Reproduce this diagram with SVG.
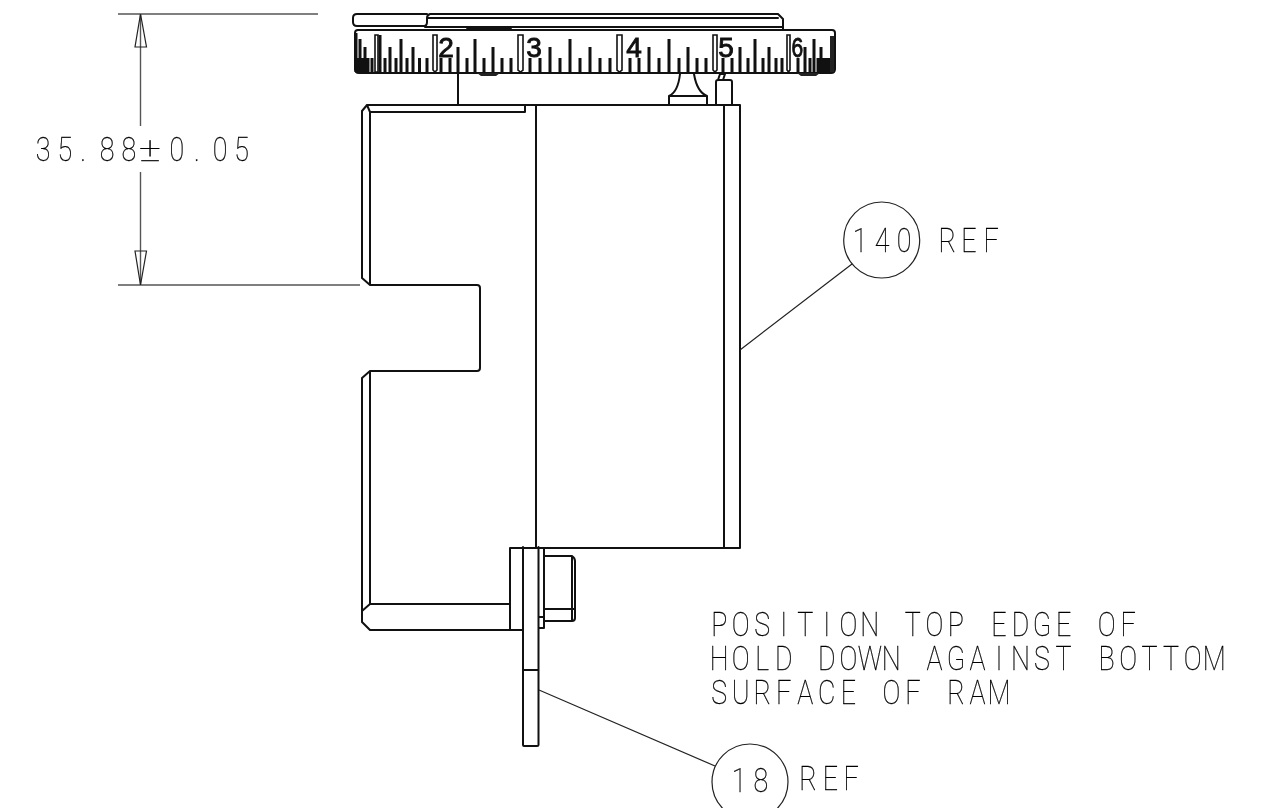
<svg xmlns="http://www.w3.org/2000/svg" width="1271" height="808" viewBox="0 0 1271 808">
<style>
.b{fill:none;stroke:#111;stroke-width:2;stroke-linejoin:round;stroke-linecap:round}
.l{fill:none;stroke:#222;stroke-width:1.2}
.d{fill:none;stroke:#555;stroke-width:1.4}
.t{fill:none;stroke:#111;stroke-width:3}
.m{fill:#fff;stroke:#111;stroke-width:1.6}
.n{font-family:"Liberation Sans",Arial,sans-serif;font-size:28px;fill:#111;text-anchor:middle;stroke:#111;stroke-width:.9}
.x{font-family:Roboto,"Liberation Sans",sans-serif;font-weight:100;font-size:33.5px;fill:#000;text-anchor:middle;stroke:#000;stroke-width:.3}
.g{filter:url(#gray)}
</style>
<defs><filter id="gray" x="-5%" y="-5%" width="110%" height="110%" color-interpolation-filters="sRGB"><feOffset dx="0" dy="0"/></filter></defs>
<rect width="1271" height="808" fill="#fff"/>
<g id="dial">
<path class="b" d="M427 14H357Q353 14 353 18V22Q353 26 357 26H424Q427 26 427 22V18Q427 15 430 14H778L783 19V29M427 18H778M425 27H783"/>
<path class="b" d="M358 30H832Q835 30 835 33V69Q835 73 831 73H359Q355 73 355 69V33Q355 30 358 30Z"/>
<path class="b" d="M467 29H511" stroke-width="1"/>
<path d="M477 73H500L496 76H481ZM797 73H820L816 76H801Z" fill="#222"/>
<path class="t" d="M356 72V33M360 72V39M365 72V47M368 72V58M372 72V58M380 72V35M385 72V58M390 72V47M396 72V58M401 72V39M407 72V58M413 72V47M419.500 72V58M427 72V58M441 72V58M450 72V58M458 72V47M467 72V58M475 72V39M484 72V58M493 72V47M502 72V58M511 72V58M530 72V58M540 72V58M550 72V47M560 72V58M570 72V39M580 72V58M590 72V47M600 72V58M610 72V58M630 72V58M639 72V58M649 72V47M659 72V58M669 72V39M679 72V58M688 72V47M697 72V58M706 72V58M723 72V58M732 72V58M740 72V47M748 72V58M755 72V39M763 72V58M769 72V47M776 72V58M782 72V58M798 72V58M805 72V47M810 72V58M814 72V39M818 72V58M821 72V47M824 72V58M827 72V58"/>
<rect x="355.500" y="58" width="9" height="14" fill="#111"/>
<rect x="826" y="58" width="9" height="14" fill="#111"/>
<rect x="830" y="36" width="4" height="36" fill="#222"/>
<path class="m" d="M375 35H378V72H375ZM433 35H437V70L435 72L433 70ZM518 35H523V70L520.500 72L518 70ZM617 35H622V70L619.500 72L617 70ZM713 35H717V70L715 72L713 70ZM787 35H790V70L788.500 72L787 70Z"/>
<g class="g">
<text class="n" x="446" y="57">2</text>
<text class="n" x="534" y="57">3</text>
<text class="n" x="634" y="57">4</text>
<text class="n" x="726" y="57">5</text>
<text class="n" transform="matrix(.75 0 0 1 0 0)" x="1063" y="57">6</text>
</g>
</g>
<g id="knob">
<path class="b" d="M680 74Q678 92 669 96V105M694 74Q697 92 707 96V105M669 96H707"/>
<path class="b" d="M716 105V82Q716 80 718 80H730Q732 80 732 82V105M718 80L720 74H725L723 80"/>
</g>
<g id="body">
<path class="b" d="M525 105H367L362 111V278L370 285H477Q480 285 480 288V368Q480 371 477 371H370L362 378V622L370 630H523M525 105V112H370V285M367 105L370 112M370 371V604H510M362 611L370 604M458 73V105M536 105V548M525 105H740V548H510Q510 548 510 549V630M724 105V548"/>
</g>
<g id="holddown">
<path class="b" d="M523 547V745Q523 746 524 746H537Q538.500 746 538.500 745V547M523 670H538.500M538.500 548H544V628H538.500M538.500 617H544M544 556H572Q575 558 575 561V618Q575 621 572 621H544M572 556V621M544 609H575"/>
</g>
<g id="connectors">
<path class="l" d="M740 350L852 264M539 690L715 766"/>
<path class="d" d="M118 14H318M118 285H360M140.500 14V126M140.500 172V285"/>
<path class="l" d="M140.500 14L135 47H146.500ZM140.500 285L135 251H146.500Z"/>
</g>
<g id="balloon-140">
<circle class="l" cx="881.700" cy="240" r="38"/>
<g class="g">
<text class="x" transform="matrix(.8 0 0 1 0 0)" y="252" x="1075 1102.500 1130">140</text>
<text class="x" transform="matrix(.8 0 0 1 0 0)" y="252" x="1184 1211 1239">REF</text>
</g>
</g>
<g id="balloon-18">
<circle class="l" cx="750" cy="782" r="38"/>
<g class="g">
<text class="x" transform="matrix(.8 0 0 1 0 0)" y="792" x="924 951">18</text>
<text class="x" transform="matrix(.8 0 0 1 0 0)" y="790" x="1010 1038 1064">REF</text>
</g>
</g>
<g id="dimension" class="g">
<text class="x" transform="matrix(.8 0 0 1 0 0)" y="161" x="54 81 104 134 161">35.88</text>
<text class="x" transform="matrix(1.25 0 0 1 0 0)" y="161" x="120">±</text>
<text class="x" transform="matrix(.8 0 0 1 0 0)" y="161" x="221 246 275 302">0.05</text>
</g>
<g id="note" class="g">
<text class="x" transform="matrix(.8 0 0 1 0 0)" y="636" x="899 925.900 952.800 979.700 1006.600 1033.500 1060.400 1087.300 1114.200 1141.100 1168 1194.900 1221.800 1248.700 1275.600 1302.500 1329.400 1356.300 1383.200 1410.100">POSITION TOP EDGE OF</text>
<text class="x" transform="matrix(.8 0 0 1 0 0)" y="670" x="899 925.900 952.800 979.700 1006.600 1033.500 1060.400 1087.300 1114.200 1141.100 1168 1194.900 1221.800 1248.700 1275.600 1302.500 1329.400 1356.300 1383.200 1410.100 1437 1463.900 1490.800 1517.700">HOLD DOWN AGAINST BOTTOM</text>
<text class="x" transform="matrix(.8 0 0 1 0 0)" y="704" x="899 925.900 952.800 979.700 1006.600 1033.500 1060.400 1087.300 1114.200 1141.100 1168 1194.900 1221.800 1248.700">SURFACE OF RAM</text>
</g>
</svg>
